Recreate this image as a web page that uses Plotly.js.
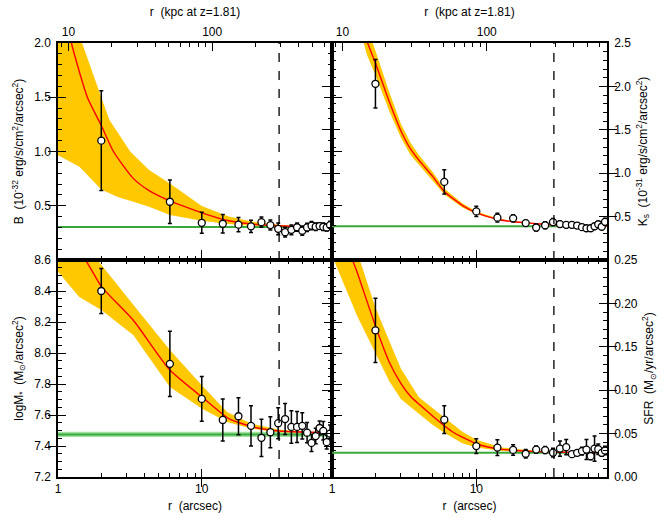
<!DOCTYPE html>
<html>
<head>
<meta charset="utf-8">
<script src="https://cdn.plot.ly/plotly-3.0.1.min.js"></script>
<style>
body { margin: 0; background: #fff; }
#chart { width: 664px; height: 522px; }
</style>
</head>
<body>
<div id="chart"></div>
<script>
// radial bins (arcsec)
var radius = [2, 6, 10, 14, 18, 22, 26, 30, 34, 38, 42, 46, 50, 54, 58, 62, 66, 70, 74, 78];

// B band surface brightness
var bVal = [1.10, 0.537, 0.343, 0.334, 0.326, 0.31, 0.349, 0.322, 0.287, 0.256, 0.278, 0.302, 0.27, 0.30, 0.316, 0.307, 0.313, 0.306, 0.30, 0.322];
var bErr = [0.46, 0.20, 0.097, 0.085, 0.065, 0.056, 0.047, 0.046, 0.054, 0.045, 0.045, 0.038, 0.043, 0.038, 0.038, 0.035, 0.03, 0.035, 0.033, 0.035];
var bModelR = [1, 1.24, 1.6, 2, 2.43, 3.35, 4.3, 6, 7.7, 10, 15.4, 22.7, 34.5, 50, 80.5];
var bModel = [2.6, 2.0, 1.5, 1.24, 1.0, 0.75, 0.64, 0.545, 0.49, 0.435, 0.362, 0.331, 0.315, 0.308, 0.305];
var bHiR = [1, 1.47, 2, 2.28, 3.18, 4.3, 6, 10, 15.4, 22.7, 34.5, 50, 80.5];
var bHi = [3.0, 2.0, 1.5, 1.29, 1.0, 0.83, 0.706, 0.497, 0.40, 0.353, 0.325, 0.312, 0.307];
var bLoR = [1, 1.41, 2, 2.6, 3.35, 4.3, 6, 10, 15.4, 22.7, 34.5, 50, 80.5];
var bLo = [0.966, 0.86, 0.65, 0.58, 0.537, 0.49, 0.414, 0.362, 0.331, 0.313, 0.306, 0.304, 0.303];
var bBg = 0.305;

// Ks band surface brightness
var kVal = [2.03, 0.90, 0.56, 0.488, 0.48, 0.425, 0.374, 0.40, 0.437, 0.414, 0.405, 0.405, 0.397, 0.378, 0.366, 0.366, 0.389, 0.412, 0.383, 0.44];
var kErr = [0.28, 0.14, 0.06, 0.05, 0.04, 0.03, 0.04, 0.04, 0.04, 0.035, 0.03, 0.03, 0.025, 0.025, 0.025, 0.025, 0.025, 0.03, 0.03, 0.04];
var kModelR = [1, 1.5, 1.75, 2, 2.5, 3, 3.5, 4, 5, 6, 8, 10, 14, 18, 25, 34, 50, 80.5];
var kModel = [4.2, 2.95, 2.52, 2.27, 1.82, 1.49, 1.28, 1.15, 0.96, 0.79, 0.63, 0.545, 0.47, 0.44, 0.42, 0.405, 0.395, 0.39];
var kLo = [3.9, 2.75, 2.36, 2.13, 1.71, 1.41, 1.21, 1.09, 0.91, 0.755, 0.605, 0.53, 0.46, 0.435, 0.416, 0.402, 0.393, 0.389];
var kHi = [4.5, 3.15, 2.68, 2.41, 1.93, 1.57, 1.35, 1.21, 1.01, 0.825, 0.655, 0.56, 0.48, 0.445, 0.424, 0.408, 0.397, 0.391];
var kBg = 0.39;

// stellar mass surface density
var mVal = [8.40, 7.93, 7.704, 7.568, 7.592, 7.53, 7.453, 7.489, 7.547, 7.574, 7.523, 7.523, 7.53, 7.486, 7.42, 7.464, 7.516, 7.498, 7.425, 7.48];
var mErr = [0.145, 0.21, 0.145, 0.135, 0.12, 0.13, 0.12, 0.10, 0.10, 0.10, 0.105, 0.10, 0.085, 0.065, 0.055, 0.05, 0.045, 0.06, 0.045, 0.055];
var mModelR = [1, 1.55, 2, 3.35, 6, 10, 15.4, 22.7, 34.6, 50, 80.5];
var mModel = [8.78, 8.6, 8.43, 8.21, 7.89, 7.717, 7.577, 7.523, 7.497, 7.49, 7.486];
var mHiR = [1, 1.87, 2, 3.35, 6, 10, 15, 22, 34, 50, 80.5];
var mHi = [8.9, 8.6, 8.57, 8.309, 8.02, 7.792, 7.62, 7.545, 7.506, 7.493, 7.488];
var mLoR = [1, 1.4, 2, 3.35, 6, 10, 15, 22, 34, 50, 80.5];
var mLo = [8.524, 8.363, 8.277, 8.115, 7.78, 7.642, 7.555, 7.513, 7.488, 7.483, 7.481];
var mBg = 7.475, mBgLo = 7.458, mBgHi = 7.492;

// star formation rate surface density
var sVal = [0.169, 0.066, 0.0356, 0.0339, 0.0312, 0.0268, 0.0316, 0.031, 0.028, 0.0327, 0.0344, 0.0263, 0.0278, 0.0298, 0.0316, 0.024, 0.0327, 0.032, 0.0278, 0.0305];
var sErr = [0.037, 0.016, 0.0085, 0.009, 0.006, 0.005, 0.004, 0.004, 0.005, 0.0087, 0.0087, 0.003, 0.003, 0.0045, 0.0115, 0.004, 0.0145, 0.006, 0.004, 0.005];
var sModelR = [1, 1.39, 1.5, 2, 2.5, 3, 3.5, 4, 5, 6, 7, 8, 10, 12, 15, 20, 25, 34, 50, 80.5];
var sModel = [0.33, 0.25, 0.235, 0.174, 0.132, 0.108, 0.093, 0.084, 0.070, 0.059, 0.051, 0.046, 0.0385, 0.0345, 0.0318, 0.0302, 0.0294, 0.0288, 0.0284, 0.028];
var sLoR = [1, 1.5, 2, 2.5, 3, 4, 5, 6, 8, 10, 15, 20, 30, 80.5];
var sLo = [0.255, 0.185, 0.142, 0.11, 0.09, 0.073, 0.06, 0.051, 0.039, 0.034, 0.030, 0.029, 0.0283, 0.0278];
var sHiR = [1, 1.56, 2, 2.33, 3, 4, 5, 6, 8, 10, 15, 20, 30, 80.5];
var sHi = [0.40, 0.25, 0.195, 0.169, 0.125, 0.092, 0.079, 0.068, 0.052, 0.043, 0.034, 0.032, 0.0298, 0.0283];
var sBg = 0.028;

var rMin = 1, rMax = 80.5;
var rCut = 34.5;          // dashed line
var kpcPerArcsec = 8.46;  // z=1.81

// tick positions
var arcMinor = [2, 3, 4, 5, 6, 7, 8, 9, 20, 30, 40, 50, 60, 70, 80];
var kpcMinor = [9, 20, 30, 40, 50, 60, 70, 80, 90, 200, 300, 400, 500, 600];

var bandColor = "#ffc800";
var fontFam = "Liberation Sans, Arial, sans-serif";

function panelTraces(xa, ya, modelR, model, hiR, hi, loR, lo, bg, vals, errs) {
  var band = {
    x: hiR.concat(loR.slice().reverse()),
    y: hi.concat(lo.slice().reverse()),
    xaxis: xa, yaxis: ya,
    mode: "lines", fill: "toself", fillcolor: bandColor,
    line: {width: 0}, hoverinfo: "skip"
  };
  var bgLine = {
    x: [rMin, rMax], y: [bg, bg], xaxis: xa, yaxis: ya,
    mode: "lines", line: {color: "#3aa83a", width: 2}
  };
  var modelLine = {
    x: modelR, y: model, xaxis: xa, yaxis: ya,
    mode: "lines", line: {color: "#ff0000", width: 1.4, shape: "spline", smoothing: 0.6}
  };
  var pts = {
    x: radius, y: vals, xaxis: xa, yaxis: ya,
    mode: "markers",
    marker: {symbol: "circle", size: 7, color: "#fff", line: {color: "#000", width: 1.3}},
    error_y: {type: "data", array: errs, color: "#000", thickness: 1.5, width: 2}
  };
  return [band, bgLine, modelLine, pts];
}

var data = [];
// green band behind the mass profile
data.push({
  x: [rMin, rMax, rMax, rMin], y: [mBgLo, mBgLo, mBgHi, mBgHi],
  xaxis: "x", yaxis: "y", mode: "lines", fill: "toself",
  fillcolor: "rgba(120,215,120,0.7)", line: {width: 0}
});
data = data.concat(panelTraces("x", "y", mModelR, mModel, mHiR, mHi, mLoR, mLo, mBg, mVal, mErr));
data = data.concat(panelTraces("x2", "y2", sModelR, sModel, sHiR, sHi, sLoR, sLo, sBg, sVal, sErr));
data = data.concat(panelTraces("x3", "y3", bModelR, bModel, bHiR, bHi, bLoR, bLo, bBg, bVal, bErr));
data = data.concat(panelTraces("x4", "y4", kModelR, kModel, kModelR, kHi, kModelR, kLo, kBg, kVal, kErr));
// empty traces so the extra (kpc and minor-tick) axes get drawn
[["x5", "y3"], ["x6", "y4"], ["x7", "y"], ["x8", "y2"], ["x9", "y3"], ["x10", "y4"],
 ["x11", "y3"], ["x12", "y4"], ["x", "y5"], ["x2", "y6"], ["x3", "y7"], ["x4", "y8"]].forEach(function (p) {
  data.push({x: [], y: [], xaxis: p[0], yaxis: p[1], showlegend: false});
});

var tickFont = {family: fontFam, size: 12, color: "#000"};
function base() {
  return {
    showline: true, linecolor: "#000", linewidth: 1.5,
    ticks: "inside", ticklen: 8, tickwidth: 1.2, tickcolor: "#000",
    showgrid: false, zeroline: false, tickfont: tickFont
  };
}

function seq(a, b, step) {
  var out = [];
  var n = Math.round((b - a) / step);
  for (var i = 0; i <= n; i++) out.push(+(a + i * step).toFixed(4));
  return out;
}

function xAx(domain, anchor, labels) {
  var ax = Object.assign(base(), {
    domain: domain, anchor: anchor, type: "log",
    range: [Math.log10(rMin), Math.log10(rMax)],
    tickmode: "array", tickvals: [1, 10], ticktext: ["1", "10"],
    showticklabels: labels, mirror: labels ? "allticks" : false
  });
  if (labels) ax.title = {text: "r  (arcsec)", font: tickFont, standoff: 6};
  return ax;
}

function kpcAx(over, anchor) {
  return Object.assign(base(), {
    overlaying: over, anchor: anchor, side: "top", type: "log",
    range: [Math.log10(rMin * kpcPerArcsec), Math.log10(rMax * kpcPerArcsec)],
    tickmode: "array", tickvals: [10, 100], ticktext: ["10", "100"],
    title: {text: "r  (kpc at z=1.81)", font: tickFont, standoff: 6}
  });
}

// short ticks on an overlaid copy of an axis
function minorAx(over, anchor, side, range, vals, isLog, mirror) {
  return Object.assign(base(), {
    overlaying: over, anchor: anchor, side: side, range: range,
    type: isLog ? "log" : "linear",
    tickmode: "array", tickvals: vals, ticklen: 4,
    showticklabels: false, mirror: mirror ? "allticks" : false
  });
}

function yAx(domain, anchor, side, range, major, fmt, title) {
  return Object.assign(base(), {
    domain: domain, anchor: anchor, side: side, range: range,
    mirror: "allticks",
    tickmode: "array", tickvals: major, ticktext: major.map(function (v) { return v.toFixed(fmt); }),
    ticklabelstandoff: 3,
    title: {text: title, font: tickFont, standoff: 8}
  });
}

var split = 274 / 549;
var arcRange = [Math.log10(rMin), Math.log10(rMax)];
var kpcRange = [Math.log10(rMin * kpcPerArcsec), Math.log10(rMax * kpcPerArcsec)];
var mRange = [7.2, 8.6], sRange = [0, 0.25], bRange = [0, 2.0], kRange = [0, 2.5];

var layout = {
  width: 664, height: 522,
  margin: {l: 58, r: 57, t: 43, b: 45},
  paper_bgcolor: "#fff", plot_bgcolor: "#fff",
  showlegend: false,
  font: tickFont,
  xaxis: xAx([0, split], "y", true),
  xaxis2: xAx([split, 1], "y2", true),
  xaxis3: xAx([0, split], "y3", false),
  xaxis4: xAx([split, 1], "y4", false),
  xaxis5: kpcAx("x3", "y3"),
  xaxis6: kpcAx("x4", "y4"),
  xaxis7: minorAx("x", "y", "bottom", arcRange, arcMinor, true, true),
  xaxis8: minorAx("x2", "y2", "bottom", arcRange, arcMinor, true, true),
  xaxis9: minorAx("x3", "y3", "bottom", arcRange, arcMinor, true, false),
  xaxis10: minorAx("x4", "y4", "bottom", arcRange, arcMinor, true, false),
  xaxis11: minorAx("x3", "y3", "top", kpcRange, kpcMinor, true, false),
  xaxis12: minorAx("x4", "y4", "top", kpcRange, kpcMinor, true, false),
  yaxis: yAx([0, 0.5], "x", "left", mRange, seq(7.2, 8.6, 0.2), 1,
    "logM<sub>*</sub>  (M<sub>⊙</sub>/arcsec<sup>2</sup>)"),
  yaxis2: yAx([0, 0.5], "x2", "right", sRange, seq(0, 0.25, 0.05), 2,
    "SFR  (M<sub>⊙</sub>/yr/arcsec<sup>2</sup>)"),
  yaxis3: yAx([0.5, 1], "x3", "left", bRange, seq(0.5, 2.0, 0.5), 1,
    "B  (10<sup>-32</sup> erg/s/cm<sup>2</sup>/arcsec<sup>2</sup>)"),
  yaxis4: yAx([0.5, 1], "x4", "right", kRange, seq(0.5, 2.5, 0.5), 1,
    "K<sub>s</sub>  (10<sup>-31</sup> erg/s/cm<sup>2</sup>/arcsec<sup>2</sup>)"),
  yaxis5: minorAx("y", "x", "left", mRange, seq(7.2, 8.6, 0.05), false, true),
  yaxis6: minorAx("y2", "x2", "right", sRange, seq(0, 0.25, 0.01), false, true),
  yaxis7: minorAx("y3", "x3", "left", bRange, seq(0, 2.0, 0.1), false, true),
  yaxis8: minorAx("y4", "x4", "right", kRange, seq(0, 2.5, 0.1), false, true),
  shapes: ["x", "x2", "x3", "x4"].map(function (xa, i) {
    var ya = ["y", "y2", "y3", "y4"][i];
    return {
      type: "line", xref: xa, yref: ya + " domain",
      x0: rCut, x1: rCut, y0: 0, y1: 1,
      line: {color: "#000", width: 1.3, dash: "dash"}, layer: "above"
    };
  })
};

Plotly.newPlot("chart", data, layout, {displayModeBar: false});
</script>
</body>
</html>
